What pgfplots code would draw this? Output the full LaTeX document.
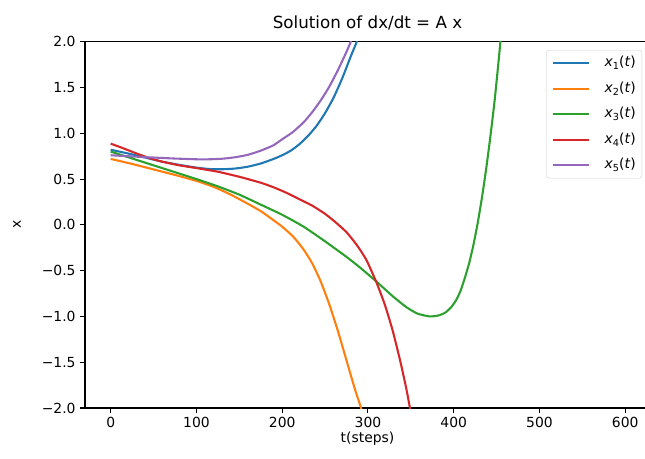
\documentclass[border=0pt]{standalone}
\usepackage{fontspec}
\setmainfont{DejaVu Sans}
\usepackage{pgfplots}
\pgfplotsset{compat=1.18}
\definecolor{c0}{HTML}{1F77B4}
\definecolor{c1}{HTML}{FF7F0E}
\definecolor{c2}{HTML}{2CA02C}
\definecolor{c3}{HTML}{D62728}
\definecolor{c4}{HTML}{9467BD}
\newcommand\lbl[1]{\textit{x}\raisebox{-2.8pt}{\fontsize{9.7}{10}\selectfont #1}(\textit{t})}
\begin{document}
\begin{tikzpicture}
\begin{axis}[
  at={(0,0)}, anchor=south west,
  scale only axis, width=565pt, height=366.3pt,
  xmin=-29.95, xmax=628.95, ymin=-2, ymax=2,
  xtick={0,100,200,300,400,500,600},
  xticklabels={0,100,200,300,400,500,600},
  ytick={-2,-1.5,-1,-0.5,0,0.5,1,1.5,2},
  yticklabels={−2.0,−1.5,−1.0,−0.5,0.0,0.5,1.0,1.5,2.0},
  tick align=outside,
  xtick pos=bottom, ytick pos=left,
  xticklabel pos=lower, yticklabel pos=left,
  major tick length=4.9pt,
  every tick/.style={black, line width=1.1pt},
  axis line style={line width=1.1pt},
  tick label style={font=\fontsize{13.9}{16}\selectfont},
  xticklabel style={yshift=-1pt},
  yticklabel style={xshift=-1pt},
  title={Solution of dx/dt = A x},
  title style={font=\fontsize{16.7}{20}\selectfont, at={(axis description cs:0.5,1)}, anchor=base, yshift=7pt, inner sep=0pt},
  xlabel={t(steps)},
  xlabel style={font=\fontsize{13.9}{16}\selectfont, at={(axis description cs:0.5,0)}, anchor=base, yshift=-34pt, inner sep=0pt},
  ylabel={x},
  ylabel style={font=\fontsize{13.9}{16}\selectfont, at={(axis description cs:0,0.5)}, anchor=center, yshift=68pt, inner sep=0pt},
  every axis plot/.append style={line width=2.08pt, line join=round, smooth, tension=0.35},
  no markers,
  legend cell align=left,
  legend image code/.code={\draw[#1, sharp plot] (0pt,0pt) -- (36pt,0pt);},
  legend style={at={(axis description cs:1,1)}, anchor=north east, xshift=-8pt, yshift=-8.3pt,
    draw=black!20, rounded corners=2.5pt, fill=white, fill opacity=0.8, text opacity=1,
    font=\fontsize{13.9}{16}\selectfont, inner xsep=5pt, inner ysep=5pt,
    row sep=9.5pt, column sep=14pt,
    nodes={inner sep=1pt, text height=10.5pt, text depth=3.5pt}},
]
\addplot[c0] coordinates {
(0,0.82) (20,0.78) (40,0.735) (60,0.69) (80,0.655) (100,0.625) (115,0.61) (130,0.607)
(145,0.615) (160,0.635) (175,0.67) (190,0.72) (200,0.76) (210,0.81) (220,0.88) (230,0.97)
(240,1.08) (250,1.22) (260,1.39) (270,1.60) (280,1.84) (287,2.0) (292,2.13)};
\addlegendentry{\lbl{1}}
\addplot[c1] coordinates {
(0,0.72) (25,0.665) (50,0.605) (75,0.545) (100,0.48) (120,0.415) (140,0.33) (160,0.23)
(175,0.15) (190,0.05) (200,-0.02) (213,-0.13) (225,-0.27) (235,-0.42) (245,-0.62)
(255,-0.87) (265,-1.16) (275,-1.48) (285,-1.80) (292,-2.0) (296,-2.15)};
\addlegendentry{\lbl{2}}
\addplot[c2] coordinates {
(0,0.80) (25,0.725) (50,0.65) (75,0.575) (100,0.50) (125,0.42) (150,0.33) (174,0.225)
(200,0.11) (225,-0.02) (250,-0.18) (275,-0.35) (290,-0.46) (310,-0.62) (329,-0.78)
(345,-0.90) (358,-0.97) (372,-1.0) (382,-0.99) (390,-0.96) (397,-0.90) (403,-0.82)
(408,-0.72) (413,-0.58) (418,-0.42) (423,-0.22) (428,0.02) (433,0.30) (438,0.62)
(443,0.98) (448,1.38) (453,1.85) (455,2.05)};
\addlegendentry{\lbl{3}}
\addplot[c3] coordinates {
(0,0.887) (15,0.835) (30,0.78) (45,0.73) (60,0.69) (80,0.65) (100,0.62) (125,0.58)
(150,0.525) (175,0.46) (190,0.41) (205,0.35) (220,0.28) (235,0.21) (250,0.12) (262,0.03)
(275,-0.08) (287,-0.22) (298,-0.38) (310,-0.63) (320,-0.88) (329,-1.16) (338,-1.50)
(345,-1.80) (349,-2.0) (352,-2.15)};
\addlegendentry{\lbl{4}}
\addplot[c4] coordinates {
(0,0.76) (25,0.747) (50,0.735) (75,0.724) (100,0.716) (115,0.716) (130,0.722) (145,0.738)
(160,0.765) (175,0.81) (190,0.87) (200,0.935) (212,1.01) (225,1.12) (235,1.23) (245,1.36)
(255,1.51) (265,1.69) (275,1.89) (280,2.0) (285,2.12)};
\addlegendentry{\lbl{5}}
\end{axis}
\pgfresetboundingbox
\path[use as bounding box] (-85pt,-50pt) rectangle (560pt,408pt);
\end{tikzpicture}
\end{document}
